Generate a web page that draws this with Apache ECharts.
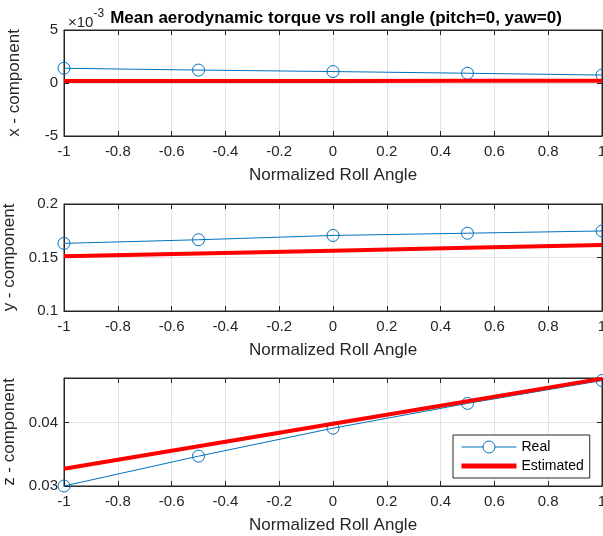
<!DOCTYPE html>
<html><head><meta charset="utf-8">
<script src="https://cdn.jsdelivr.net/npm/echarts@6/dist/echarts.min.js"></script>
<style>html,body{margin:0;padding:0;background:#fff;overflow:hidden}#c{width:603px;height:536px}</style>
</head><body><div id="c"></div>
<script>
var rollAngle = [-1, -0.5, 0, 0.5, 1];
// x-component values in units of 1e-3
var xReal = [1.39, 1.22, 1.08, 0.92, 0.75];
var xEst = [0.18, 0.19, 0.2, 0.21, 0.22];
var yReal = [0.1632, 0.1666, 0.1706, 0.1727, 0.1748];
var yEst = [0.1512, 0.1538, 0.1564, 0.1590, 0.1617];
var zReal = [0.0300, 0.0347, 0.0391, 0.0430, 0.0466];
var zEst = [0.0327, 0.03625, 0.0398, 0.04335, 0.0469];
var titleText = 'Mean aerodynamic torque vs roll angle (pitch=0, yaw=0)';
var yNames = ['x - component', 'y - component', 'z - component'];
var xName = 'Normalized Roll Angle';
var yRanges = [[-5, 5, 5], [0.1, 0.2, 0.05], [0.03, 0.047, 0.01]];

var TXT = '#262626', FONT = 'Liberation Sans, Arial, Helvetica, sans-serif';
var tops = [30, 204, 378], heights = [106, 107, 108];
function pairs(ys){ return rollAngle.map(function(x,i){return [x, ys[i]];}); }

var grids = [], xAxes = [], yAxes = [], series = [];
var realSets = [xReal, yReal, zReal], estSets = [xEst, yEst, zEst];
for (var i = 0; i < 3; i++) {
  grids.push({left: 64, right: 1, top: tops[i], height: heights[i], show: true, borderColor: TXT, borderWidth: 1, backgroundColor: '#fff', containLabel: false, outerBoundsMode: 'none'});
  xAxes.push({type: 'value', gridIndex: i, min: -1, max: 1, interval: 0.2, position: 'bottom',
    name: xName, nameLocation: 'middle', nameGap: 31,
    nameTextStyle: {color: TXT, fontSize: 17, fontFamily: FONT},
    axisLine: {show: true, onZero: false, lineStyle: {color: TXT}}, axisTick: {show: true, inside: true, length: 5, lineStyle: {color: TXT}},
    axisLabel: {color: TXT, fontSize: 15, fontFamily: FONT, margin: 8, showMinLabel: true, showMaxLabel: true},
    splitLine: {show: true, lineStyle: {color: '#e3e3e3', width: 1}}});
  xAxes.push({type: 'value', gridIndex: i, min: -1, max: 1, interval: 0.2, position: 'top',
    axisLine: {show: true, onZero: false, lineStyle: {color: TXT}}, axisTick: {show: true, inside: true, length: 5, lineStyle: {color: TXT}},
    axisLabel: {show: false}, splitLine: {show: false}});
  var r = yRanges[i];
  yAxes.push({type: 'value', gridIndex: i, min: r[0], max: r[1], interval: r[2], position: 'left',
    name: yNames[i], nameLocation: 'middle', nameGap: 41,
    nameTextStyle: {color: TXT, fontSize: 17, fontFamily: FONT},
    axisLine: {show: true, onZero: false, lineStyle: {color: TXT}}, axisTick: {show: true, inside: true, length: 5, lineStyle: {color: TXT}},
    axisLabel: {color: TXT, fontSize: 15, fontFamily: FONT, margin: 6, showMaxLabel: i < 2},
    splitLine: {show: true, lineStyle: {color: '#e3e3e3', width: 1}}});
  yAxes.push({type: 'value', gridIndex: i, min: r[0], max: r[1], interval: r[2], position: 'right',
    axisLine: {show: true, onZero: false, lineStyle: {color: TXT}}, axisTick: {show: true, inside: true, length: 5, lineStyle: {color: TXT}},
    axisLabel: {show: false}, splitLine: {show: false}});
  series.push({name: 'Real', type: 'line', xAxisIndex: 2*i, yAxisIndex: 2*i, data: pairs(realSets[i]),
    symbol: 'circle', symbolSize: 12, showAllSymbol: true, clip: false,
    lineStyle: {color: '#0072BD', width: 1}, itemStyle: {color: 'rgba(255,255,255,0)', borderWidth: 1, borderColor: '#0072BD'}, z: 3});
  series.push({name: 'Estimated', type: 'line', xAxisIndex: 2*i, yAxisIndex: 2*i, data: pairs(estSets[i]),
    symbol: 'none', clip: false, lineStyle: {color: '#FF0000', width: 4}, itemStyle: {color: '#FF0000'}, z: 4});
}

var chart = echarts.init(document.getElementById('c'), null, {renderer: 'canvas', width: 603, height: 536});
chart.setOption({
  animation: false,
  backgroundColor: '#fff',
  title: [{text: titleText, left: 331, top: 5, textAlign: 'center',
    textStyle: {fontSize: 17, fontWeight: 'bold', color: '#000', fontFamily: FONT}},
    {text: '{a|×10}{b|-3}', left: 63, top: 3,
    textStyle: {fontWeight: 'normal', rich: {a: {fontSize: 15, fontWeight: 'normal', color: TXT, fontFamily: FONT, padding: [7, 0, 0, 0]}, b: {fontSize: 12, fontWeight: 'normal', color: TXT, fontFamily: FONT, verticalAlign: 'top'}}}}],
  legend: {data: [
      {name: 'Real', itemStyle: {color: '#fff', borderColor: '#0072BD', borderWidth: 1}, lineStyle: {color: '#0072BD', width: 1}},
      {name: 'Estimated', itemStyle: {opacity: 0}, lineStyle: {color: '#FF0000', width: 5}}],
    orient: 'vertical', left: 453, top: 435,
    itemWidth: 55, itemHeight: 15, itemGap: 5, padding: [5, 6, 5, 6],
    borderColor: TXT, borderWidth: 1, backgroundColor: '#fff',
    textStyle: {color: '#000', fontSize: 14, fontFamily: FONT}},
  grid: grids, xAxis: xAxes, yAxis: yAxes, series: series
});
</script></body></html>
